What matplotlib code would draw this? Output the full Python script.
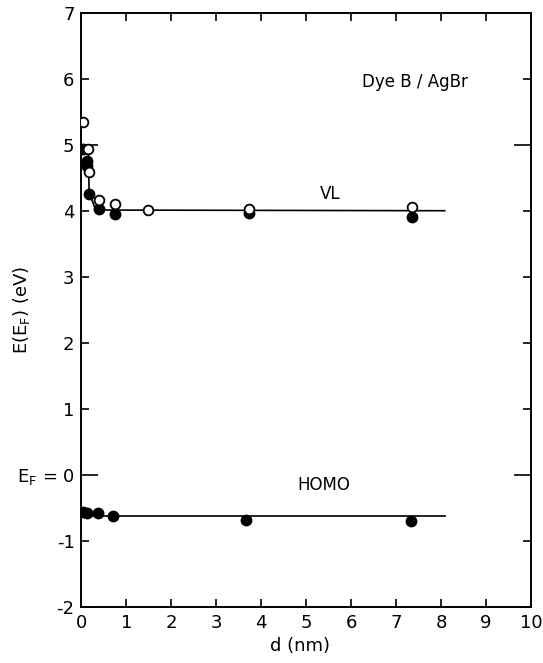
import matplotlib
matplotlib.use('Agg')
import matplotlib.pyplot as plt
from matplotlib.ticker import FixedLocator

# VL data: open = one set, filled = another
vl_open_d = [0.04, 0.15, 0.17, 0.40, 0.74, 1.47, 3.72, 7.35]
vl_open_e = [5.34, 4.94, 4.59, 4.16, 4.10, 4.01, 4.03, 4.05]
vl_fill_d = [0.04, 0.12, 0.13, 0.17, 0.40, 0.74, 3.72, 7.35]
vl_fill_e = [4.94, 4.76, 4.68, 4.26, 4.03, 3.95, 3.96, 3.90]

# curve drawn through the VL points
vl_line_d = [0.15, 0.16, 0.17, 0.30, 0.50, 8.08]
vl_line_e = [4.94, 4.70, 4.28, 4.04, 4.01, 4.00]

homo_d = [0.04, 0.12, 0.37, 0.71, 3.67, 7.34]
homo_e = [-0.56, -0.57, -0.58, -0.62, -0.69, -0.70]
homo_line_d = [0.0, 8.08]
homo_line_e = [-0.63, -0.63]

ytick_vals = [-2, -1, 0, 1, 2, 3, 4, 5, 6, 7]
ytick_labels = ['-2', '-1', r'E$_\mathrm{F}$ = 0', '1', '2', '3', '4', '5', '6', '7']
xtick_vals = list(range(0, 11))

plt.rcParams['font.family'] = ['DejaVu Sans']
fig = plt.figure(figsize=(5.43, 6.63), dpi=100)
ax = fig.add_axes([0.150, 0.0845, 0.828, 0.8965])

ax.plot(vl_line_d, vl_line_e, color='black', lw=1.2, zorder=1)
ax.plot(homo_line_d, homo_line_e, color='black', lw=1.2, zorder=1)
ax.plot(vl_fill_d, vl_fill_e, 'o', color='black', ms=7.5, zorder=2)
ax.plot(vl_open_d, vl_open_e, 'o', mfc='white', mec='black', mew=1.3, ms=7, zorder=3)
ax.plot(homo_d, homo_e, 'o', color='black', ms=7.5, zorder=2)

ax.text(5.3, 4.18, 'VL', fontsize=12)
ax.text(4.8, -0.15, 'HOMO', fontsize=12, va='center')
ax.text(6.25, 5.95, 'Dye B / AgBr', fontsize=12, va='center')

ax.set_xlim(0, 10)
ax.set_ylim(-2, 7)
ax.set_xticks(xtick_vals)
ax.set_yticks(ytick_vals)
ax.set_yticklabels(ytick_labels)
ax.yaxis.set_minor_locator(FixedLocator([]))

ax.tick_params(axis='x', direction='in', length=6, width=1.2, labelsize=13, pad=5,
               top=True)
ax.tick_params(axis='y', direction='in', length=6, width=1.2, labelsize=13, pad=5,
               right=True)
# longer marks at 0 and 5
for t in ax.yaxis.get_major_ticks():
    if t.get_loc() in (0, 5):
        t.tick1line.set_markersize(12)
        t.tick2line.set_markersize(12)

for s in ax.spines.values():
    s.set_linewidth(1.4)

ax.set_xlabel('d (nm)', fontsize=13)
ax.xaxis.set_label_coords(0.485, -0.05)
ax.set_ylabel(r'E(E$_\mathrm{F}$) (eV)', fontsize=13)
ax.yaxis.set_label_coords(-0.11, 0.5)

fig.savefig('out.png', dpi=100)
